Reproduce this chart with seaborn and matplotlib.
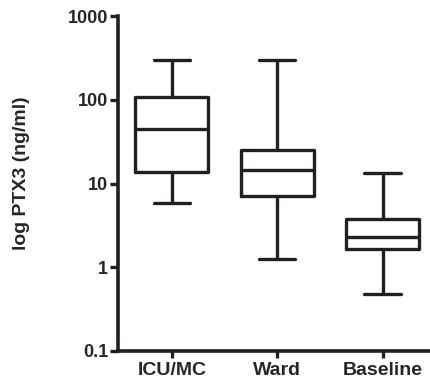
import pandas as pd
import matplotlib.pyplot as plt
import seaborn as sns

# Valores: minimo, Q1, mediana, Q3, maximo
groups = ['ICU/MC', 'Ward', 'Baseline']
icu_vals = [5.9, 13.6, 45, 108, 299]
ward_vals = [1.27, 7.06, 14.7, 25.4, 299]
base_vals = [0.48, 1.67, 2.32, 3.73, 13.2]
y_ticks = [0.1, 1, 10, 100, 1000]
y_tick_labels = ['0.1', '1', '10', '100', '1000']

df = pd.DataFrame({
    'group': [groups[0]] * 5 + [groups[1]] * 5 + [groups[2]] * 5,
    'ptx3': icu_vals + ward_vals + base_vals,
})

sns.set_theme(style="ticks")
plt.rcParams['font.family'] = ['Liberation Sans', 'DejaVu Sans']

fig = plt.figure(figsize=(4.31, 3.84), dpi=100)
ax = fig.add_axes([0.274, 0.086, 0.726, 0.872])
ax.set_yscale('log')

col = '#231f20'
lw = 2.4
sns.boxplot(data=df, x='group', y='ptx3', order=groups, whis=(0, 100), width=0.69,
            fill=False, color=col, linewidth=lw, showfliers=False, ax=ax,
            medianprops={'color': col, 'linewidth': lw},
            whiskerprops={'color': col, 'linewidth': lw},
            capprops={'color': col, 'linewidth': lw, 'solid_capstyle': 'round'},
            boxprops={'color': col, 'linewidth': lw})

ax.set_ylim(0.1, 1000)
ax.set_xlim(-0.51, 2.46)
ax.set_yticks(y_ticks)
ax.set_yticklabels(y_tick_labels, fontsize=13, fontweight='bold')
ax.minorticks_off()
ax.tick_params(axis='y', which='major', length=6, width=2.4, color=col, pad=1)
ax.tick_params(axis='x', length=5, width=2.4, color=col, pad=3)
for lab in ax.get_xticklabels():
    lab.set_fontsize(14)
    lab.set_fontweight('bold')
ax.set_xlabel('')
ax.set_ylabel('log PTX3 (ng/ml)', fontsize=14, fontweight='bold')
ax.yaxis.set_label_coords(-0.28, 0.53)

sns.despine(ax=ax)
for s in ['left', 'bottom']:
    ax.spines[s].set_linewidth(2.6)
    ax.spines[s].set_color(col)

fig.savefig('out.png', dpi=100)
